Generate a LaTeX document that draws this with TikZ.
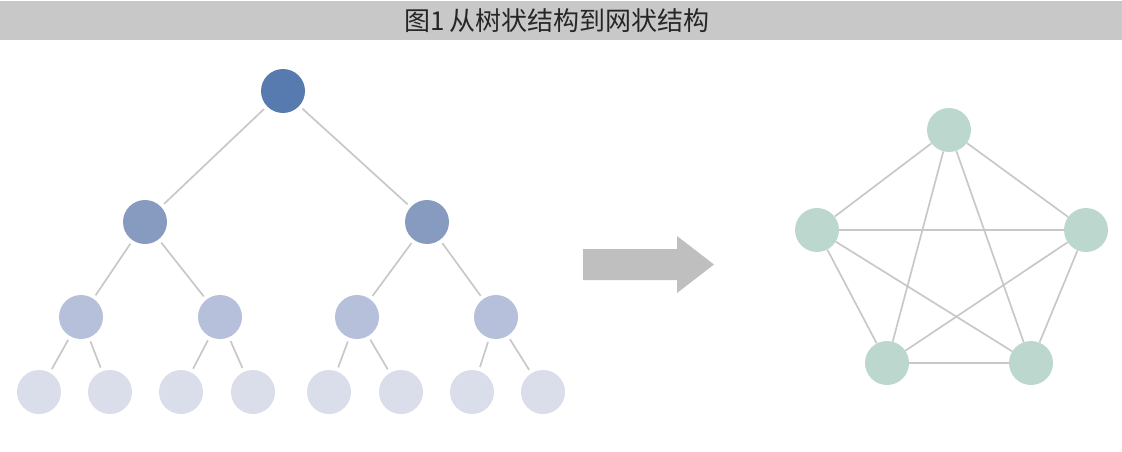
\documentclass[tikz,border=0pt]{standalone}
\usepackage{fontspec}
\setmainfont{Liberation Sans}
\newfontfamily\cjk{Noto Sans CJK SC}
\usetikzlibrary{positioning}

\definecolor{rootblue}{RGB}{87,123,174}
\definecolor{midblue}{RGB}{135,155,193}
\definecolor{lowblue}{RGB}{183,192,218}
\definecolor{leafblue}{RGB}{218,221,234}
\definecolor{meshgreen}{RGB}{188,216,206}
\definecolor{linegray}{RGB}{200,200,200}
\definecolor{bargray}{RGB}{200,200,200}
\definecolor{arrowgray}{RGB}{191,191,191}

\begin{document}
\begin{tikzpicture}[x=1pt, y=-1pt]
	% Define custom styles to make the code cleaner and more reusable.
	\tikzset{
		ball/.style={circle, inner sep=0pt, minimum size=44pt},
		treeline/.style={draw=linegray, line width=1.7pt, shorten <=4pt, shorten >=4pt},
		meshline/.style={draw=linegray, line width=1.7pt}
	}
	\useasboundingbox (0,0) rectangle (1122,452);
	
	% === TITLE ===
	\fill[bargray] (0,1) rectangle (1122,40);
	\node[font=\cjk\fontsize{26}{26}\selectfont, text=black!85] (title) at (557,21) {图1\,从树状结构到网状结构};
	
	% === TREE NODES ===
	\node[ball, fill=rootblue] (root) at (283,91) {};
	\node[ball, fill=midblue] (l) at (145,222) {};
	\node[ball, fill=midblue] (r) at (427,222) {};
	\node[ball, fill=lowblue] (ll) at (81,317) {};
	\node[ball, fill=lowblue] (lr) at (220,317) {};
	\node[ball, fill=lowblue] (rl) at (357,317) {};
	\node[ball, fill=lowblue] (rr) at (496,317) {};
	\node[ball, fill=leafblue] (lll) at (39,392) {};
	\node[ball, fill=leafblue] (llr) at (110,392) {};
	\node[ball, fill=leafblue] (lrl) at (181,392) {};
	\node[ball, fill=leafblue] (lrr) at (253,392) {};
	\node[ball, fill=leafblue] (rll) at (329,392) {};
	\node[ball, fill=leafblue] (rlr) at (401,392) {};
	\node[ball, fill=leafblue] (rrl) at (472,392) {};
	\node[ball, fill=leafblue] (rrr) at (543,392) {};
	
	% === TREE CONNECTIONS ===
	\draw[treeline] (root) -- (l);
	\draw[treeline] (root) -- (r);
	\draw[treeline] (l) -- (ll);
	\draw[treeline] (l) -- (lr);
	\draw[treeline] (r) -- (rl);
	\draw[treeline] (r) -- (rr);
	\draw[treeline] (ll) -- (lll);
	\draw[treeline] (ll) -- (llr);
	\draw[treeline] (lr) -- (lrl);
	\draw[treeline] (lr) -- (lrr);
	\draw[treeline] (rl) -- (rll);
	\draw[treeline] (rl) -- (rlr);
	\draw[treeline] (rr) -- (rrl);
	\draw[treeline] (rr) -- (rrr);
	
	% === ARROW ===
	\fill[arrowgray] (583,249) -- (677,249) -- (677,236) -- (714,264.5)
		-- (677,293) -- (677,280) -- (583,280) -- cycle;
	
	% === MESH NODES ===
	\node[ball, fill=meshgreen] (top) at (949,130) {};
	\node[ball, fill=meshgreen] (west) at (817,230) {};
	\node[ball, fill=meshgreen] (east) at (1086,230) {};
	\node[ball, fill=meshgreen] (sw) at (887,363) {};
	\node[ball, fill=meshgreen] (se) at (1031,363) {};
	
	% === MESH CONNECTIONS ===
	\draw[meshline] (top) -- (west);
	\draw[meshline] (top) -- (east);
	\draw[meshline] (top) -- (sw);
	\draw[meshline] (top) -- (se);
	\draw[meshline] (west) -- (east);
	\draw[meshline] (west) -- (sw);
	\draw[meshline] (west) -- (se);
	\draw[meshline] (east) -- (sw);
	\draw[meshline] (east) -- (se);
	\draw[meshline] (sw) -- (se);
\end{tikzpicture}
\end{document}
